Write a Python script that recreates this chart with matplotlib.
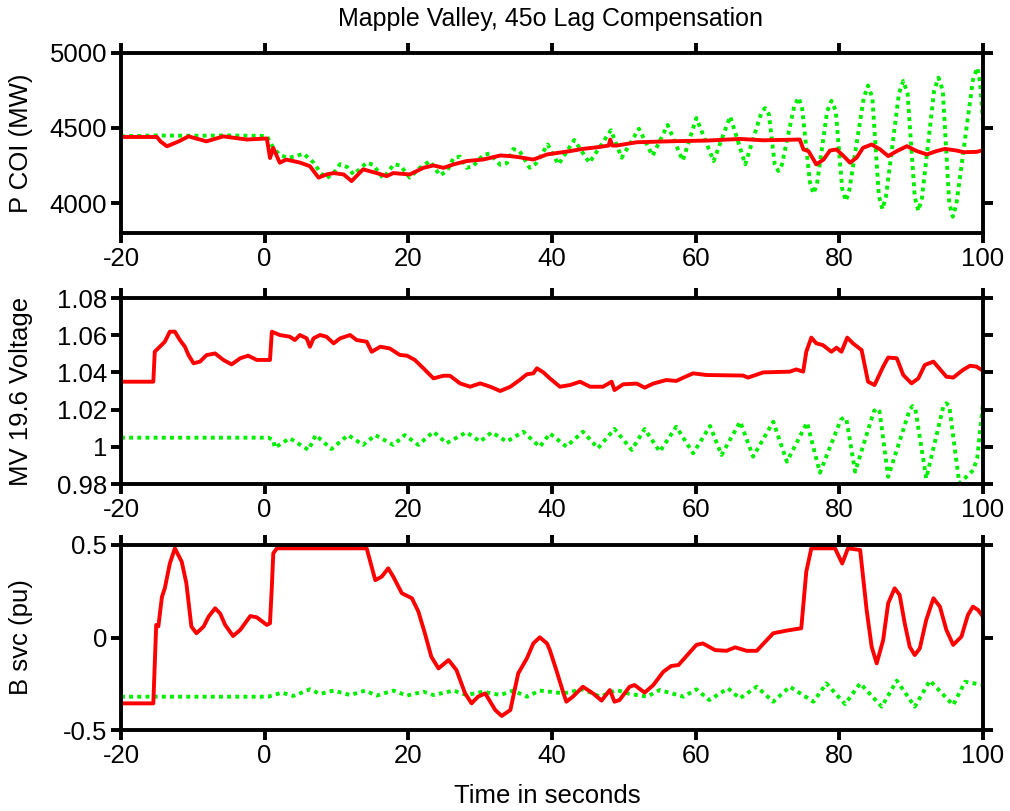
import numpy as np
import matplotlib
matplotlib.use("Agg")
import matplotlib.pyplot as plt

plt.rcParams['font.family'] = ['Liberation Sans', 'DejaVu Sans']
plt.rcParams['axes.unicode_minus'] = False

# ---- P COI (MW) ----
p_red_t = [-20, -15, -14.5, -13.6, -12, -10.6, -8.1, -5.75, -2.5, 0.3, 0.75, 1.2, 2.1, 3, 4.9,
           6.3, 7.5, 8.6, 9.6, 11, 12.1, 13.7, 15.6, 17, 17.9, 20.2, 22.1, 23.5, 24.9, 26.3,
           28.1, 30.4, 32.8, 34.2, 35.5, 37.4, 39.3, 42.5, 44.3, 46.7, 47.9, 48.1, 48.4, 49,
           51.8, 56.9, 61.5, 66.2, 69.4, 74.5, 75, 75.7, 76.8, 77.8, 78.7, 79.6, 80.6, 81.5,
           82.4, 83.3, 84.5, 85.7, 86.8, 88, 89.4, 90.8, 92.2, 93.5, 94.7, 96.3, 97.3, 99.1, 100]
p_red = [4440, 4440, 4410, 4378, 4410, 4444, 4411, 4444, 4423, 4430, 4300, 4367, 4269, 4290, 4270,
         4246, 4170, 4191, 4200, 4191, 4147, 4225, 4200, 4180, 4200, 4191, 4235, 4251, 4235, 4258,
         4280, 4290, 4317, 4313, 4305, 4290, 4324, 4346, 4361, 4374, 4383, 4423, 4383, 4383,
         4405, 4412, 4416, 4427, 4418, 4423, 4357, 4346, 4258, 4290, 4350, 4357, 4313, 4269,
         4302, 4368, 4390, 4357, 4313, 4346, 4379, 4346, 4324, 4346, 4361, 4350, 4339, 4341, 4352]

p_grn_t = [-20, -15, -10, -5, 0.3, 1.2, 2.1, 3.2, 4.5, 5.4, 6.8, 7.8, 8.6, 9.6, 10.5, 11.5, 12.4,
           14.2, 15.1, 16.5, 18.0, 18.9, 20.2, 21.6, 23.0, 24.4, 25.4, 26.3, 27.2, 28.1, 29.0,
           30.4, 31.3, 32.8, 33.7, 34.6, 35.5, 36.9, 37.8, 39.4, 40.9, 43.1, 45.2, 48.2, 49.7,
           52.1, 54.0, 56.1, 58.2, 60.1, 62.5, 64.8, 66.9, 69.1, 69.65, 70.2, 71.0, 71.5, 72.0,
           73.7, 74.3, 74.8, 75.9, 76.4, 76.9, 78.3, 78.9, 79.5, 80.4, 80.9, 81.4, 83.4, 84.0,
           84.6, 85.5, 86.0, 86.5, 88.3, 88.9, 89.5, 90.5, 91.0, 91.5, 93.2, 93.8, 94.4, 95.3,
           95.8, 96.3, 98.6, 99.2, 99.6, 100]
p_grn = [4445, 4450, 4448, 4450, 4447, 4367, 4322, 4300, 4315, 4330, 4270, 4200, 4165, 4200, 4260,
         4240, 4190, 4270, 4255, 4165, 4260, 4250, 4170, 4235, 4280, 4185, 4215, 4300, 4310, 4235,
         4245, 4320, 4330, 4255, 4265, 4360, 4345, 4235, 4265, 4390, 4258, 4420, 4269, 4485, 4302,
         4495, 4315, 4520, 4283, 4566, 4280, 4577, 4258, 4595, 4632, 4590, 4260, 4214, 4255,
         4640, 4702, 4640, 4140, 4064, 4130, 4610, 4680, 4615, 4095, 4015, 4090, 4700, 4782,
         4700, 4050, 3960, 4045, 4730, 4812, 4730, 4040, 3949, 4035, 4750, 4834, 4750, 4000,
         3910, 3995, 4820, 4900, 4800, 4533]

# ---- MV 19.6 Voltage ----
v_red_t = [-20, -15.5, -15.3, -14.6, -13.9, -13.2, -12.5, -11.8, -11.1, -10.6, -9.9, -9.0, -8.1,
           -6.9, -5.75, -4.6, -3.4, -2.3, -1.1, 0.74, 1.0, 2.1, 3.5, 4.2, 4.9, 5.85, 6.3, 6.8, 7.7,
           8.6, 9.6, 10.5, 11.9, 12.8, 14.2, 14.9, 16.1, 17.4, 18.8, 19.8, 20.9, 22.1, 23.5, 24.9,
           25.8, 27.2, 28.6, 30, 31.4, 32.8, 34.2, 35.5, 36.5, 37.4, 37.9, 38.8, 39.7, 41.1, 42.5,
           43.9, 45.3, 47.1, 48.3, 48.7, 49.9, 51.8, 52.9, 54.1, 55.9, 57.3, 58.3, 59.65, 61.5,
           66.6, 67.3, 69.4, 73.1, 74.0, 74.97, 75.4, 76.1, 76.8, 77.7, 78.9, 79.6, 80.3, 81.1,
           81.9, 83.1, 84.0, 84.9, 86.1, 86.8, 88.0, 88.9, 90.05, 91.0, 91.9, 93.1, 94.9, 95.85,
           97.2, 98.2, 99.1, 100]
v_red = [1.035, 1.035, 1.0511, 1.0538, 1.0565, 1.0619, 1.0619, 1.0574, 1.0538, 1.0493, 1.0449,
         1.0458, 1.0493, 1.0502, 1.0467, 1.0443, 1.0476, 1.049, 1.0467, 1.0467, 1.0619, 1.0601,
         1.0592, 1.0574, 1.0601, 1.0583, 1.0538, 1.0583, 1.0601, 1.0592, 1.0556, 1.0583, 1.0601,
         1.0574, 1.0565, 1.0511, 1.0538, 1.0529, 1.0494, 1.049, 1.0467, 1.0422, 1.0368, 1.0382,
         1.0382, 1.0341, 1.0323, 1.0341, 1.0323, 1.030, 1.0323, 1.0359, 1.039, 1.0395, 1.0422,
         1.040, 1.0368, 1.0323, 1.0332, 1.035, 1.0323, 1.0323, 1.035, 1.0305, 1.0336, 1.034,
         1.0318, 1.034, 1.0359, 1.0354, 1.0372, 1.0395, 1.0386, 1.0383, 1.0372, 1.040, 1.0404,
         1.0416, 1.0404, 1.0511, 1.0587, 1.0556, 1.0547, 1.0511, 1.0533, 1.0511, 1.0587, 1.0556,
         1.052, 1.035, 1.0332, 1.0431, 1.048, 1.0476, 1.0386, 1.0341, 1.0368, 1.044, 1.0458,
         1.0377, 1.0372, 1.0413, 1.0436, 1.0431, 1.0408]

v_grn_t = [-20, -10, 0.5, 1.2, 1.4, 3.5, 6.1, 7.1, 9.3, 11.6, 13.7, 15.4, 17.9, 19.5, 21.4, 23.5,
           25.3, 28.1, 30, 31.6, 33.7, 36, 38.3, 39.7, 42, 44.3, 46.4, 48.7, 51.1, 52.9, 55, 57.3,
           59.65, 62.0, 63.6, 66.2, 68.0, 70.8, 72.7, 75.5, 77.3, 80.2, 80.6, 81.0, 82.2, 84.8,
           85.2, 85.6, 86.8, 89.8, 90.2, 90.6, 92.1, 94.5, 94.9, 95.3, 96.7, 97.7, 98.65, 99.2, 100]
v_grn = [1.0049, 1.0049, 1.0049, 1.0037, 0.9995, 1.0046, 0.9983, 1.0063, 0.9988, 1.0063, 1.001,
         1.0063, 1.001, 1.0063, 1.001, 1.0081, 1.0019, 1.0078, 1.0028, 1.0078, 1.0028, 1.0081,
         1.0, 1.0072, 1.0001, 1.0081, 0.9992, 1.0096, 0.9983, 1.0096, 0.9974, 1.0108, 0.9965,
         1.0112, 0.9956, 1.0135, 0.9947, 1.0135, 0.992, 1.013, 0.9861, 1.0145, 1.0158, 1.0145,
         0.9866, 1.019, 1.0207, 1.019, 0.9839, 1.020, 1.0219, 1.020, 0.983, 1.022, 1.0234, 1.022,
         0.9804, 0.9839, 0.9875, 0.994, 1.0234]

# ---- B svc (pu) ----
b_red_t = [-20, -15.5, -15.1, -14.8, -14.3, -13.9, -13.2, -12.5, -11.55, -10.9, -10.2, -9.5, -8.5,
           -7.8, -6.9, -6.2, -5.5, -4.4, -3.4, -2.0, -1.1, 0.3, 0.74, 1.0, 1.2, 1.7, 14.2, 14.7,
           15.4, 16.3, 17.2, 17.9, 19.1, 20.5, 21.4, 22.3, 23.2, 24.2, 25.6, 26.7, 27.9, 28.8,
           29.7, 30.7, 32.1, 33.0, 34.2, 35.3, 36.5, 37.4, 38.3, 39.3, 39.7, 40.6, 41.6, 42.0,
           42.9, 44.3, 45.7, 46.9, 48.05, 48.7, 49.4, 50.8, 51.5, 52.9, 54.1, 55.5, 56.6, 57.6,
           60.1, 61.0, 62.7, 64.3, 65.5, 67.1, 68.5, 70.8, 72.6, 74.7, 75.4, 76.1, 79.4, 80.4,
           81.2, 82.9, 83.8, 84.5, 85.2, 86.1, 86.8, 87.7, 88.4, 89.1, 89.8, 90.5, 91.2, 92.1,
           93.1, 94.0, 94.9, 95.85, 97.0, 97.9, 98.6, 99.3, 100]
b_red = [-0.356, -0.356, 0.068, 0.06, 0.22, 0.266, 0.40, 0.482, 0.41, 0.293, 0.059, 0.023, 0.059,
         0.113, 0.158, 0.13, 0.068, 0.008, 0.041, 0.116, 0.109, 0.068, 0.077, 0.275, 0.455, 0.482,
         0.482, 0.41, 0.31, 0.329, 0.374, 0.329, 0.239, 0.212, 0.14, 0.023, -0.104, -0.167,
         -0.122, -0.176, -0.302, -0.356, -0.32, -0.302, -0.392, -0.424, -0.392, -0.194, -0.113,
         -0.032, 0.001, -0.032, -0.068, -0.176, -0.302, -0.347, -0.32, -0.266, -0.302, -0.341,
         -0.284, -0.347, -0.338, -0.266, -0.257, -0.298, -0.257, -0.185, -0.154, -0.149, -0.04,
         -0.032, -0.068, -0.072, -0.053, -0.072, -0.072, 0.023, 0.037, 0.050, 0.356, 0.482,
         0.482, 0.40, 0.482, 0.473, 0.149, -0.05, -0.14, -0.014, 0.185, 0.266, 0.23, 0.077,
         -0.05, -0.095, -0.059, 0.095, 0.212, 0.167, 0.041, -0.04, 0.005, 0.122, 0.167, 0.149,
         0.113]

b_grn_t = [-20, -10, 0.5, 2.4, 4.0, 6.3, 7.7, 9.6, 11.9, 14, 15.6, 17.9, 19.8, 22.1, 23.5, 26.3,
           28.1, 30.4, 32.8, 34.6, 36.5, 38.3, 39.7, 41.6, 44.3, 46.7, 49, 50.8, 53.2, 55, 58.3,
           60.1, 61.9, 64.5, 66.15, 68.5, 70.8, 73.1, 76.4, 78.2, 80.8, 82.9, 85.9, 88, 90.5,
           92.6, 95.85, 97.5, 100]
b_grn = [-0.32, -0.32, -0.32, -0.298, -0.316, -0.28, -0.305, -0.287, -0.311, -0.287, -0.314,
         -0.287, -0.314, -0.293, -0.311, -0.287, -0.311, -0.293, -0.311, -0.287, -0.32, -0.287,
         -0.293, -0.302, -0.28, -0.32, -0.284, -0.305, -0.32, -0.284, -0.32, -0.28, -0.338,
         -0.275, -0.329, -0.266, -0.347, -0.266, -0.347, -0.248, -0.36, -0.248, -0.374, -0.233,
         -0.374, -0.233, -0.365, -0.239, -0.257]

panels = [
    (p_grn_t, p_grn, p_red_t, p_red, 'P COI (MW)', (3800, 5000), [4000, 4500, 5000]),
    (v_grn_t, v_grn, v_red_t, v_red, 'MV 19.6 Voltage', (0.98, 1.08),
     [0.98, 1.0, 1.02, 1.04, 1.06, 1.08]),
    (b_grn_t, b_grn, b_red_t, b_red, 'B svc (pu)', (-0.5, 0.5), [-0.5, 0, 0.5]),
]
xticks = [-20, 0, 20, 40, 60, 80, 100]

W, H = 1010, 811
fig = plt.figure(figsize=(W / 100, H / 100), dpi=100)
# axes boxes in pixels: (top, bottom)
boxes = [(52.7, 233.3), (298, 484), (545, 730)]
left_px, right_px = 121, 983

for (gt, gv, rt, rv, ylab, ylim, yticks), (top, bot) in zip(panels, boxes):
    ax = fig.add_axes([left_px / W, 1 - bot / H, (right_px - left_px) / W, (bot - top) / H])
    ax.plot(gt, gv, color='#00ee00', lw=2.8, linestyle=(0, (1, 1.1)), solid_capstyle='butt')
    ax.plot(rt, rv, color='#ff0000', lw=2.8, solid_joinstyle='round')
    ax.set_xlim(-20, 100)
    ax.set_ylim(*ylim)
    ax.set_xticks(xticks)
    ax.set_yticks(yticks)
    ax.set_yticklabels(['%g' % v for v in yticks])
    ax.tick_params(direction='out', length=7, width=2.8, labelsize=18.5, pad=3,
                   top=True, right=True)
    for s in ax.spines.values():
        s.set_linewidth(2.8)
    ax.set_ylabel(ylab, fontsize=18.5)
    ax.yaxis.set_label_coords((33 - left_px) / (right_px - left_px), 0.5)

ax.set_xlabel('Time in seconds', fontsize=18.5)
ax.xaxis.set_label_coords(0.495, -0.29)

fig.text(550 / W, 1 - 19 / H, 'Mapple Valley, 45o Lag Compensation', fontsize=18,
         ha='center', va='center')

fig.savefig('out.png', dpi=100)
